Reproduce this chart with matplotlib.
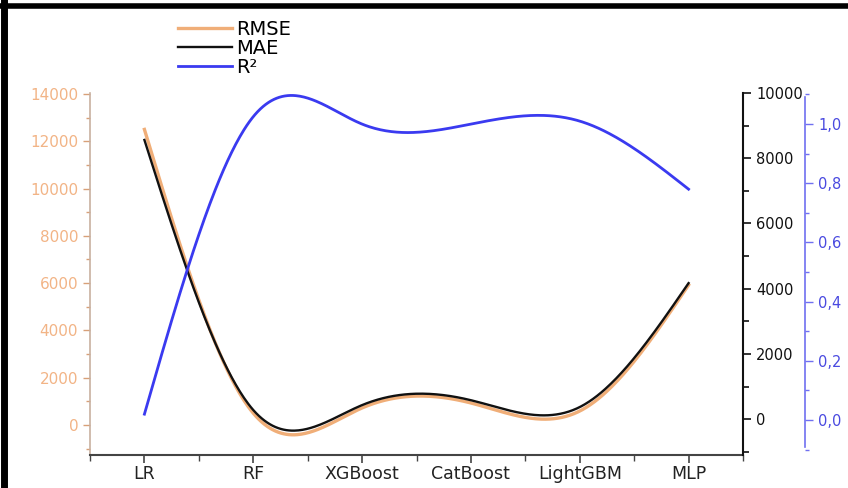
import numpy as np
import matplotlib
matplotlib.use("Agg")
from matplotlib import pyplot as plt
from matplotlib.lines import Line2D
from matplotlib.ticker import MultipleLocator, FuncFormatter

models = ["LR", "RF", "XGBoost", "CatBoost", "LightGBM", "MLP"]
rmse = [12500, 500, 720, 930, 590, 5920]
mae = [8560, 280, 430, 580, 370, 4170]
r2 = [0.02, 1.025, 1.00, 1.00, 1.01, 0.78]

ORANGE = "#F0AE78"
BLUE = "#3A3AF0"


def natural_spline(x, y, xs):
    x = np.asarray(x, float)
    y = np.asarray(y, float)
    n = len(x)
    h = np.diff(x)
    A = np.zeros((n, n))
    b = np.zeros(n)
    A[0, 0] = 1
    A[-1, -1] = 1
    for i in range(1, n - 1):
        A[i, i - 1] = h[i - 1]
        A[i, i] = 2 * (h[i - 1] + h[i])
        A[i, i + 1] = h[i]
        b[i] = 6 * ((y[i + 1] - y[i]) / h[i] - (y[i] - y[i - 1]) / h[i - 1])
    m = np.linalg.solve(A, b)
    idx = np.clip(np.searchsorted(x, xs) - 1, 0, n - 2)
    x0, x1 = x[idx], x[idx + 1]
    hh = x1 - x0
    t0, t1 = x1 - xs, xs - x0
    return (m[idx] * t0**3 / (6 * hh) + m[idx + 1] * t1**3 / (6 * hh)
            + (y[idx] / hh - m[idx] * hh / 6) * t0
            + (y[idx + 1] / hh - m[idx + 1] * hh / 6) * t1)


x = np.arange(len(models))
xs = np.linspace(0, len(models) - 1, 400)

fig = plt.figure(figsize=(8.48, 4.88), dpi=100)
ax = fig.add_axes([90 / 848, 1 - 455 / 488, (743 - 90) / 848, (455 - 93) / 488])
ax2 = ax.twinx()
ax3 = ax.twinx()

l1, = ax.plot(xs, natural_spline(x, rmse, xs), color=ORANGE, lw=2.4, label="RMSE")
l2, = ax2.plot(xs, natural_spline(x, mae, xs), color="#111111", lw=1.7, label="MAE")
l3, = ax3.plot(xs, natural_spline(x, r2, xs), color=BLUE, lw=2.0, label="R²")

ax.set_xlim(-0.5, 5.5)
ax.set_ylim(-1270, 14040)
ax2.set_ylim(-1100, 10000)
ax3.set_ylim(-0.118, 1.105)

ax.set_xticks(x)
ax.set_xticklabels(models, fontsize=12.5, color="#222222")
ax.xaxis.set_minor_locator(MultipleLocator(1, offset=0.5))
ax.tick_params(axis="x", which="major", length=6, width=1.2, color="#444444", pad=1)
ax.tick_params(axis="x", which="minor", length=4, width=1.0, color="#444444")

ax.yaxis.set_major_locator(MultipleLocator(2000))
ax.yaxis.set_minor_locator(MultipleLocator(1000))
ax.tick_params(axis="y", which="both", colors="#D8A078", labelcolor="#F2B486",
               labelsize=11, width=1.0)
ax.tick_params(axis="y", which="major", length=5)
ax.tick_params(axis="y", which="minor", length=3)

ax2.yaxis.set_major_locator(MultipleLocator(2000))
ax2.yaxis.set_minor_locator(MultipleLocator(1000))
ax2.tick_params(axis="y", which="both", colors="#111111", labelsize=10.5, width=1.2)
ax2.tick_params(axis="y", which="major", length=6)
ax2.tick_params(axis="y", which="minor", length=4)

ax3.spines["right"].set_position(("axes", 1 + 62 / 653))
ax3.spines["right"].set_bounds(-0.09, 1.09)
ax3.yaxis.set_major_locator(MultipleLocator(0.2))
ax3.yaxis.set_minor_locator(MultipleLocator(0.1))
ax3.yaxis.set_major_formatter(FuncFormatter(lambda v, p: f"{v:.1f}".replace(".", ",")))
ax3.tick_params(axis="y", which="both", colors="#7070F0", labelcolor="#4A4AE0",
                labelsize=10.5, width=1.0)
ax3.tick_params(axis="y", which="major", length=6)
ax3.tick_params(axis="y", which="minor", length=3)

for a in (ax, ax2, ax3):
    a.spines["top"].set_visible(False)
ax.spines["right"].set_visible(False)
ax.spines["bottom"].set_color("#444444")
ax.spines["bottom"].set_linewidth(1.5)
ax.spines["left"].set_color("#C8B0A0")
ax.spines["left"].set_linewidth(1.2)
for a in (ax2, ax3):
    a.spines["left"].set_visible(False)
    a.spines["bottom"].set_visible(False)
ax2.spines["right"].set_color("#111111")
ax2.spines["right"].set_linewidth(1.5)
ax3.spines["right"].set_color("#7070F0")
ax3.spines["right"].set_linewidth(1.2)

fig.legend(handles=[l1, l2, l3], loc="upper left",
           bbox_to_anchor=(168 / 848, 1 - 10 / 488), frameon=False,
           fontsize=14, labelspacing=0.0, handlelength=2.8, handletextpad=0.2,
           borderpad=0)

fig.add_artist(Line2D([4 / 848, 4 / 848], [0, 1], transform=fig.transFigure,
                      color="black", lw=5))
fig.add_artist(Line2D([0, 1], [1 - 6 / 488, 1 - 6 / 488], transform=fig.transFigure,
                      color="black", lw=4))

fig.savefig("out.png", dpi=100)
